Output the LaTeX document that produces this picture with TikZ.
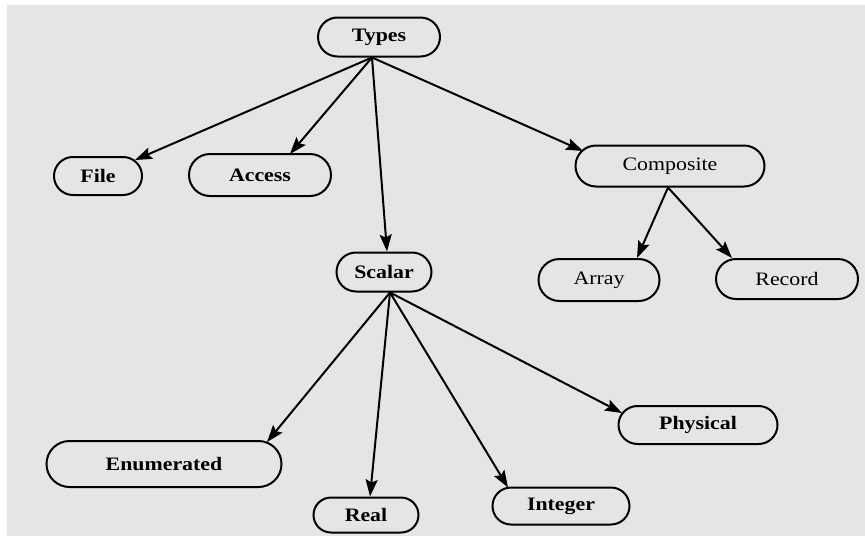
\documentclass[tikz,border=0pt]{standalone}
\usepackage{fontspec}
\setmainfont{Liberation Serif}
\usetikzlibrary{shapes.misc,arrows.meta}
\definecolor{bgcol}{RGB}{229,229,229}
\newcommand{\wlbl}[1]{\scalebox{1.15}[1]{#1}}
\begin{document}
\begin{tikzpicture}[x=1pt,y=-1pt,
  term/.style={rounded rectangle, draw=black, line width=2pt, inner sep=0pt,
               font=\fontsize{19}{21}\selectfont\bfseries},
  regterm/.style={term, font=\fontsize{19}{21}\selectfont},
  arr/.style={line width=2pt, -{Stealth[length=17pt,width=12pt,inset=3pt]}}]
\useasboundingbox (0,0) rectangle (865,536);
\fill[white] (0,0) rectangle (865,536);
\fill[bgcol] (7,5) rectangle (865,536);

\node[term, minimum width=122pt, minimum height=39pt] (types) at (379,37) {\wlbl{Types}};
\node[term, minimum width=88pt, minimum height=38pt] (file) at (98,176) {\wlbl{File}};
\node[term, minimum width=142pt, minimum height=42pt] (access) at (260,175) {\wlbl{Access}};
\node[regterm, minimum width=189pt, minimum height=41pt] (composite) at (670,166) {\wlbl{Composite}};
\node[regterm, minimum width=121pt, minimum height=42pt] (array) at (599,280) {\wlbl{Array}};
\node[regterm, minimum width=142pt, minimum height=40pt] (record) at (787,279) {\wlbl{Record}};
\node[term, minimum width=95pt, minimum height=39pt] (scalar) at (384,272) {\wlbl{Scalar}};
\node[term, minimum width=235pt, minimum height=46pt] (enum) at (164,464) {\wlbl{Enumerated}};
\node[term, minimum width=105pt, minimum height=35pt] (real) at (366,515) {\wlbl{Real}};
\node[term, minimum width=137pt, minimum height=37pt] (integer) at (561,506) {\wlbl{Integer}};
\node[term, minimum width=159pt, minimum height=38pt] (physical) at (698,425) {\wlbl{Physical}};

\coordinate (ts) at ([xshift=-7pt]types.south);
\coordinate (ss) at ([xshift=6pt]scalar.south);
\coordinate (cs) at ([xshift=-2pt]composite.south);

\draw[arr] (ts) -- ([shift={(37,-16)}]file.center);
\draw[arr] (ts) -- ([shift={(30,-21)}]access.center);
\draw[arr] (ts) -- ([xshift=3pt]scalar.north);
\draw[arr] (ts) -- ([shift={(-87,-15)}]composite.center);

\draw[arr] (cs) -- ([xshift=38pt]array.north);
\draw[arr] (cs) -- ([xshift=-55pt]record.north);

\draw[arr] (ss) -- ([shift={(103,-22)}]enum.center);
\draw[arr] (ss) -- ([xshift=4pt]real.north);
\draw[arr] (ss) -- ([shift={(-53,-18.5)}]integer.center);
\draw[arr] (ss) -- ([shift={(-76,-12)}]physical.center);
\end{tikzpicture}
\end{document}
